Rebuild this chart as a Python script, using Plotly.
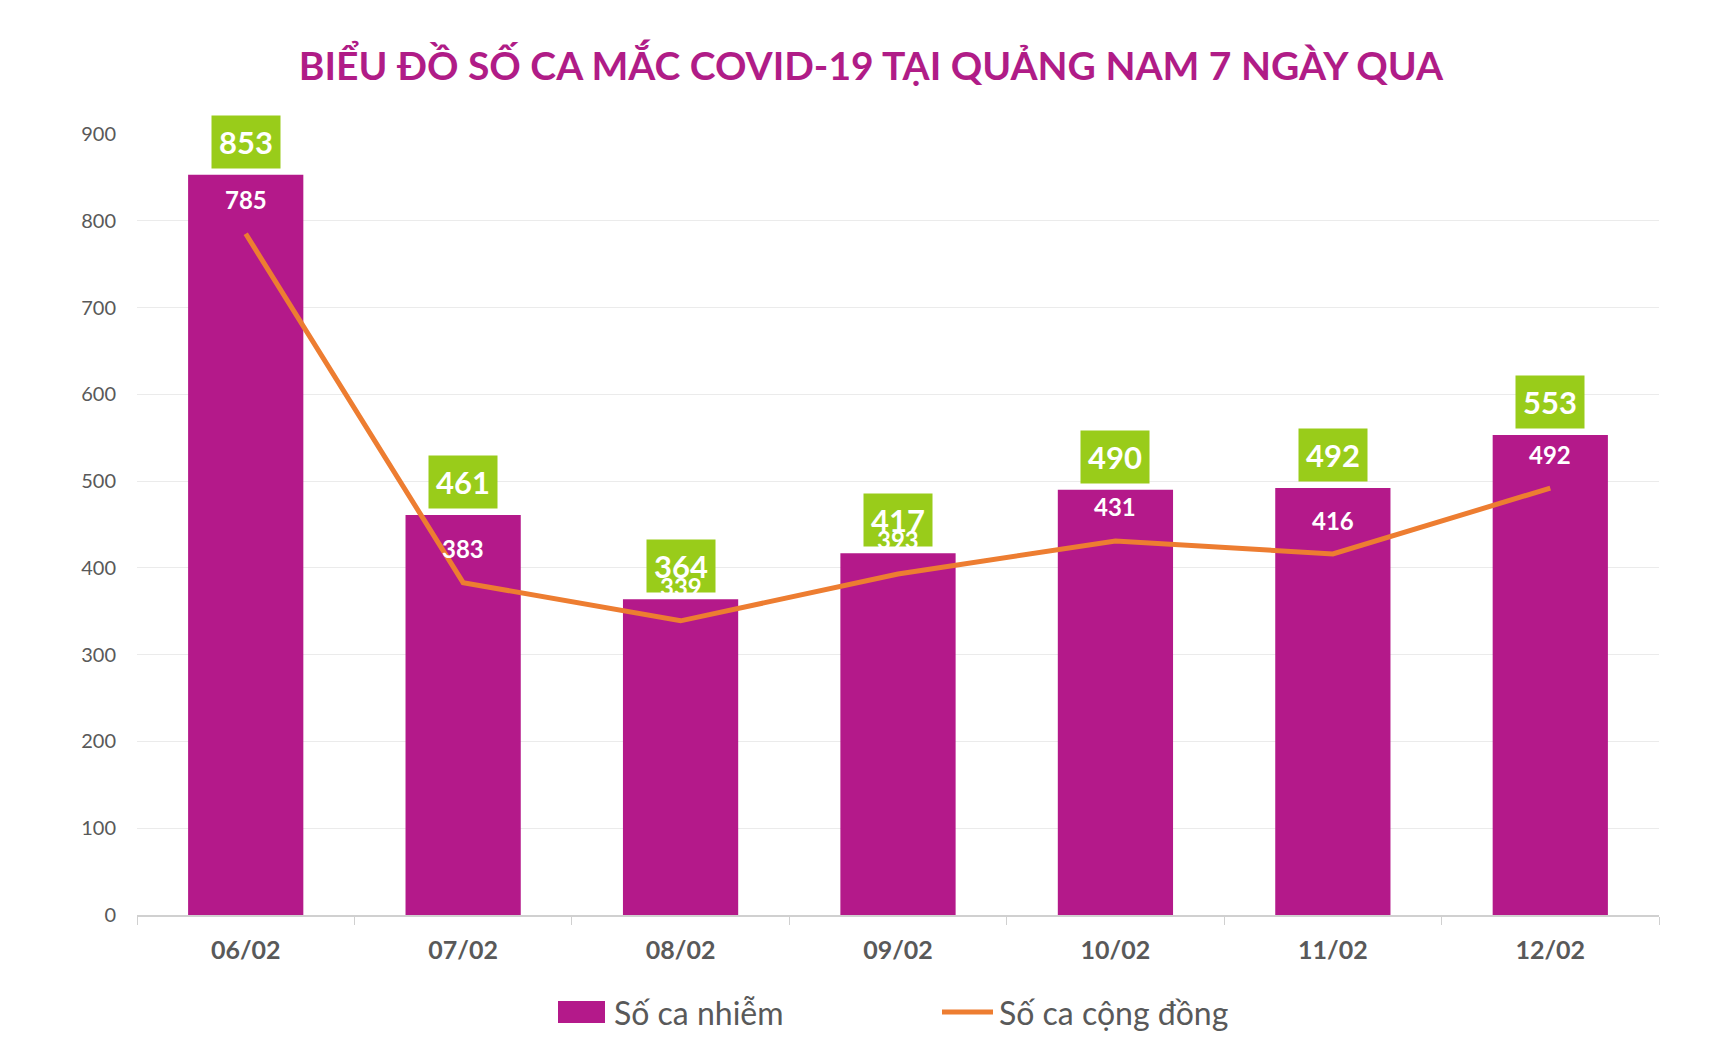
import plotly.graph_objects as go

categories = ["06/02", "07/02", "08/02", "09/02", "10/02", "11/02", "12/02"]
infected = [853, 461, 364, 417, 490, 492, 553]
community = [785, 383, 339, 393, 431, 416, 492]
y_ticks = [0, 100, 200, 300, 400, 500, 600, 700, 800, 900]
legend_names = ["Số ca nhiễm", "Số ca cộng đồng"]

BAR = "#B4198A"
GREEN = "#99CC1A"
ORANGE = "#ED7D31"
GREY = "#595959"
FONT = "Lato, 'Noto Sans', sans-serif"

# page offset of the browser body (8px) is compensated in the layout
W, H = 1706, 1047
L, R, T, B = 129, 55, 126, 140
PW, PH = W - L - R, H - T - B


def px_x(X):
    return (X - 8 - L) / PW


def px_y(Y):
    return 1 - (Y - 8 - T) / PH


fig = go.Figure()
fig.add_trace(go.Bar(
    x=categories, y=infected, name=legend_names[0],
    marker=dict(color=BAR, line=dict(width=0)),
    width=0.53, showlegend=False,
))
fig.add_trace(go.Scatter(
    x=categories, y=community, name=legend_names[1],
    mode="lines", line=dict(color=ORANGE, width=5), showlegend=False,
))

annotations = []
for c, v in zip(categories, infected):
    annotations.append(dict(
        x=c, y=v, xref="x", yref="y", text=f"<b>{v}</b>", showarrow=False,
        yshift=33, font=dict(family=FONT, size=31, color="white"),
        bgcolor=GREEN, borderpad=7,
    ))
for c, v in zip(categories, community):
    annotations.append(dict(
        x=c, y=v, xref="x", yref="y", text=f"<b>{v}</b>", showarrow=False,
        yshift=34, font=dict(family=FONT, size=24, color="white"),
    ))

# legend (drawn manually to match the large swatches)
legend_y = px_y(1012)
annotations.append(dict(
    x=px_x(612), y=legend_y, xref="paper", yref="paper", xanchor="left", yanchor="middle",
    text=legend_names[0], showarrow=False, font=dict(family=FONT, size=32, color=GREY),
))
annotations.append(dict(
    x=px_x(997), y=legend_y, xref="paper", yref="paper", xanchor="left", yanchor="middle",
    text=legend_names[1], showarrow=False, font=dict(family=FONT, size=32, color=GREY),
))
shapes = [
    dict(type="rect", xref="paper", yref="paper",
         x0=px_x(558), x1=px_x(605), y0=px_y(1001), y1=px_y(1023),
         fillcolor=BAR, line=dict(width=0)),
    dict(type="line", xref="paper", yref="paper",
         x0=px_x(942), x1=px_x(993), y0=legend_y, y1=legend_y,
         line=dict(color=ORANGE, width=5)),
]

fig.update_layout(
    width=W, height=H,
    paper_bgcolor="white", plot_bgcolor="white",
    margin=dict(l=L, r=R, t=T, b=B, autoexpand=False),
    font=dict(family=FONT, color=GREY),
    title=dict(
        text="<b>BIỂU ĐỒ SỐ CA MẮC COVID-19 TẠI QUẢNG NAM 7 NGÀY QUA</b>",
        x=(871 - 8) / W, xanchor="center", y=1 - (66 - 8) / H, yanchor="middle", yref="container",
        font=dict(family=FONT, size=39, color="#B01C87"),
    ),
    bargap=0.47,
    annotations=annotations,
    shapes=shapes,
    showlegend=False,
)
fig.update_xaxes(
    type="category", showgrid=False, showline=True, linecolor="#D0D0D0", linewidth=1.5,
    ticks="outside", tickson="boundaries", ticklen=8, tickcolor="#D0D0D0",
    tickfont=dict(family=FONT, size=25, color=GREY), ticklabelstandoff=12,
    tickprefix="<b>", ticksuffix="</b>",
)
fig.update_yaxes(
    range=[0, 900], tickvals=y_ticks, showgrid=True, gridcolor="#EBEBEB", gridwidth=1,
    zeroline=False, showline=False, ticks="",
    tickfont=dict(family=FONT, size=20, color=GREY), ticklabelstandoff=20,
)

fig.write_html("out.html")
